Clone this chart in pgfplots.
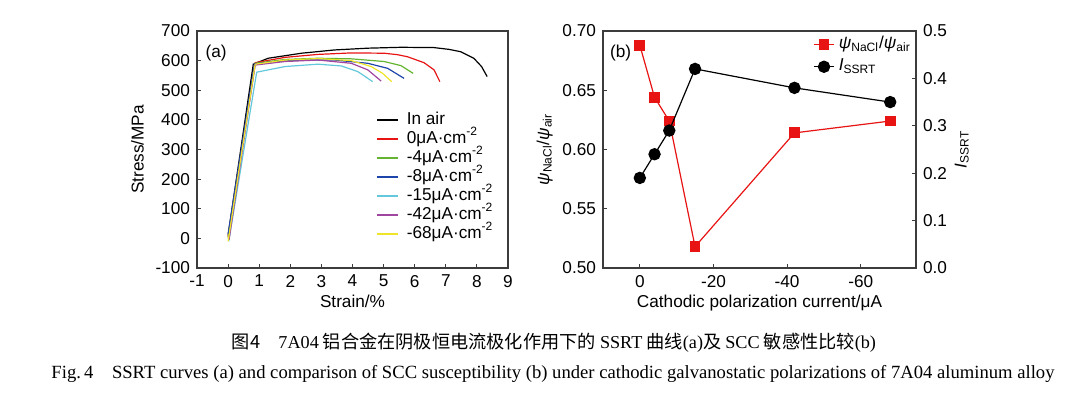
\documentclass[border=0pt]{standalone}
\usepackage{fontspec}
\setmainfont{Liberation Sans}
\newfontfamily\seriffont{Liberation Serif}
\newfontfamily\cjk{Noto Sans CJK SC}
\usepackage{pgfplots}
\pgfplotsset{compat=1.18}
\definecolor{cred}{RGB}{232,20,20}
\definecolor{cgreen}{RGB}{100,180,50}
\definecolor{cblue}{RGB}{30,70,170}
\definecolor{ccyan}{RGB}{100,200,220}
\definecolor{cpurple}{RGB}{160,70,160}
\definecolor{cyellow}{RGB}{240,228,40}
\definecolor{axgray}{RGB}{60,60,60}
\newcommand{\tfont}{\fontsize{8.6}{9.5}\selectfont}
\begin{document}
\begin{tikzpicture}
\useasboundingbox (0,0) rectangle (541.5pt,199.5pt);
% ---------------- (a) ----------------
\begin{axis}[
  at={(98.5pt,65.5pt)}, anchor=south west,
  width=155.5pt, height=118.5pt, scale only axis,
  xmin=-1, xmax=9, ymin=-100, ymax=700,
  xtick={-1,0,...,9}, ytick={-100,0,...,700},
  tick align=inside, xtick pos=bottom, ytick pos=left,
  major tick length=2pt,
  axis line style={axgray, line width=0.6pt},
  every tick/.style={axgray, line width=0.5pt},
  ticklabel style={font=\tfont},
  /pgf/number format/assume math mode=true,
  xlabel={Strain/\%}, ylabel={Stress/MPa},
  label style={font=\tfont},
  xlabel style={yshift=3pt},
  ylabel style={yshift=-1pt},
  legend style={at={(0.575,0.665)}, anchor=north west, draw=none, fill=none,
    font=\tfont, row sep=0.5pt, inner sep=0pt,
    nodes={inner sep=0.5pt, text height=6.2pt, text depth=1.8pt}},
  legend cell align=left,
  legend image code/.code={\draw[#1, line width=1pt](0pt,0pt)--(10.5pt,0pt); \path (14pt,0pt);},
  every axis plot/.append style={line width=0.6pt},
]
\node[anchor=north west, font=\tfont] at (rel axis cs:0.005,0.97) {(a)};
\addplot[black] coordinates {(0,10) (0.81,588) (1.29,608) (2.36,625) (3.42,636) (4.49,642) (5.56,645) (6.62,644) (7.1,638) (7.48,630) (7.90,608) (8.15,580) (8.33,546)};
\addlegendentry{In air}
\addplot[cred] coordinates {(0,5) (0.87,593) (1.83,611) (2.89,621) (3.96,626) (5.02,625) (5.45,620) (5.77,613) (6.30,593) (6.62,569) (6.81,529)};
\addlegendentry{0μA·cm\textsuperscript{-2}}
\addplot[cgreen] coordinates {(0,0) (0.87,591) (1.83,604) (2.89,608) (3.96,606) (5.02,597) (5.56,583) (5.95,557)};
\addlegendentry{-4μA·cm\textsuperscript{-2}}
\addplot[cblue] coordinates {(0,15) (0.85,589) (1.5,597) (2.36,602) (3.42,602) (4.49,591) (5.13,574) (5.66,540)};
\addlegendentry{-8μA·cm\textsuperscript{-2}}
\addplot[ccyan] coordinates {(0.02,-10) (0.92,561) (1.83,580) (2.89,588) (3.64,582) (4.17,563) (4.65,529)};
\addlegendentry{-15μA·cm\textsuperscript{-2}}
\addplot[cpurple] coordinates {(0.03,-5) (0.87,585) (1.83,597) (2.89,602) (3.96,591) (4.49,569) (4.92,531)};
\addlegendentry{-42μA·cm\textsuperscript{-2}}
\addplot[cyellow] coordinates {(0,-10) (0.87,588) (1.83,602) (2.89,607) (3.96,600) (4.60,580) (4.97,557) (5.26,529)};
\addlegendentry{-68μA·cm\textsuperscript{-2}}
\end{axis}
% ---------------- (b) left axis ----------------
\begin{axis}[
  at={(301.5pt,65.5pt)}, anchor=south west,
  width=156.5pt, height=118.5pt, scale only axis,
  x dir=reverse, xmin=-75, xmax=10, ymin=0.5, ymax=0.7,
  xtick={0,-20,-40,-60}, ytick={0.5,0.55,...,0.71},
  tick align=inside, xtick pos=bottom, ytick pos=left,
  major tick length=2pt,
  axis line style={axgray, line width=0.6pt},
  every tick/.style={axgray, line width=0.5pt},
  ticklabel style={font=\tfont},
  yticklabel style={/pgf/number format/.cd, fixed, fixed zerofill, precision=2},
  /pgf/number format/assume math mode=true,
  xlabel={Cathodic polarization current/μA},
  ylabel={\textit{ψ}\textsubscript{NaCl}/\textit{ψ}\textsubscript{air}},
  label style={font=\tfont},
  xlabel style={yshift=3pt},
  ylabel style={yshift=-2pt},
]
\node[anchor=north west, font=\tfont] at (rel axis cs:0.0,0.97) {(b)};
\addplot[cred, line width=0.6pt, mark=square*, mark size=2.4pt, mark options={solid}] coordinates {(0,0.688) (-4,0.644) (-8,0.624) (-15,0.518) (-42,0.614) (-68,0.624)};
\end{axis}
% ---------------- (b) right axis ----------------
\begin{axis}[
  at={(301.5pt,65.5pt)}, anchor=south west,
  width=156.5pt, height=118.5pt, scale only axis,
  x dir=reverse, xmin=-75, xmax=10, ymin=0, ymax=0.5,
  axis x line=none, axis y line*=right,
  ytick={0,0.1,...,0.51},
  tick align=inside, major tick length=2pt,
  axis line style={axgray, line width=0.6pt},
  every tick/.style={axgray, line width=0.5pt},
  ticklabel style={font=\tfont},
  yticklabel style={/pgf/number format/.cd, fixed, fixed zerofill, precision=1},
  /pgf/number format/assume math mode=true,
  ylabel={\textit{I}\textsubscript{SSRT}},
  label style={font=\tfont},
  ylabel style={yshift=3pt},
  legend style={at={(0.671,0.99)}, anchor=north west, draw=none, fill=none,
    font=\tfont, row sep=0pt, inner sep=0pt,
    nodes={inner sep=0.6pt, text height=7pt, text depth=2.8pt}},
  legend cell align=left,
  legend image code/.code={\draw[mark repeat=2, mark phase=2, #1] plot coordinates {(0pt,0pt) (5pt,0pt) (10pt,0pt)}; \path (11.5pt,0pt);},
]
\addlegendimage{cred, line width=0.6pt, mark=square*, mark size=2.4pt}
\addlegendentry{\textit{ψ}\textsubscript{NaCl}/\textit{ψ}\textsubscript{air}}
\addplot[black, line width=0.6pt, mark=*, mark size=2.8pt] coordinates {(0,0.19) (-4,0.24) (-8,0.29) (-15,0.42) (-42,0.38) (-68,0.35)};
\addlegendentry{\textit{I}\textsubscript{SSRT}}
\end{axis}
% ---------------- captions ----------------
\node at (277pt,28pt) {\resizebox{322pt}{!}{\fontsize{8}{9}\selectfont\cjk 图4\quad{\seriffont 7A04} 铝合金在阴极恒电流极化作用下的 {\seriffont SSRT} 曲线{\seriffont (a)}及 {\seriffont SCC} 敏感性比较{\seriffont (b)}}};
\node at (276.5pt,12.5pt) {\resizebox{501.5pt}{!}{\seriffont\fontsize{8}{9}\selectfont Fig.\,4\quad SSRT curves (a) and comparison of SCC susceptibility (b) under cathodic galvanostatic polarizations of 7A04 aluminum alloy}};
\end{tikzpicture}
\end{document}
